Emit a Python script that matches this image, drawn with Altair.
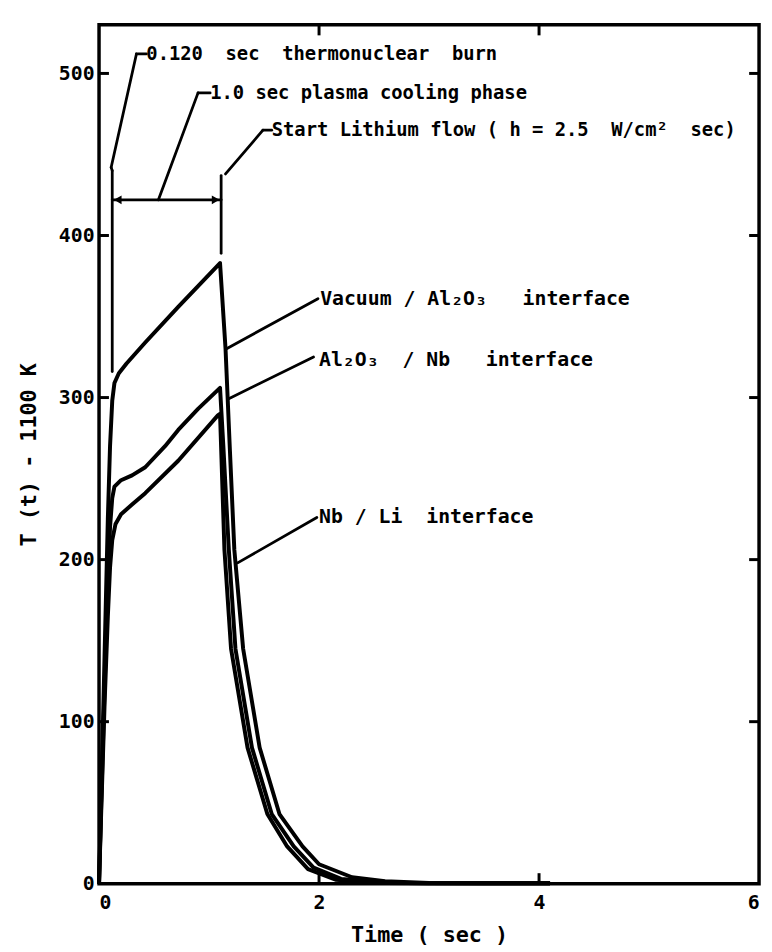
import altair as alt
import pandas as pd

# ---- curve data (time in sec, temperature rise T(t)-1100 K) ----
t_vac = [0, 0.02, 0.05, 0.08, 0.10, 0.12, 0.14, 0.18, 0.25, 0.42, 0.72, 1.10,
         1.15, 1.19, 1.23, 1.31, 1.46, 1.64, 1.85, 2.0, 2.3, 2.6, 3.0, 3.5, 4.1]
v_vac = [0, 55, 140, 225, 270, 298, 309, 315, 321, 334, 356, 383,
         330, 267, 206, 145, 84, 43, 23, 12, 4, 1.5, 0.5, 0.3, 0.3]

t_aln = [0, 0.02, 0.05, 0.08, 0.10, 0.12, 0.14, 0.20, 0.30, 0.42, 0.60, 0.72, 0.90, 1.10,
         1.13, 1.18, 1.24, 1.39, 1.57, 1.77, 1.95, 2.2, 2.6, 3.0, 3.5, 4.1]
v_aln = [0, 50, 120, 185, 220, 238, 245, 249, 252, 257, 270, 280, 293, 306,
         270, 206, 145, 84, 43, 23, 10, 3, 0.6, 0.3, 0.3, 0.3]

t_nbl = [0, 0.02, 0.05, 0.08, 0.10, 0.12, 0.15, 0.20, 0.30, 0.42, 0.72, 1.08, 1.10,
         1.14, 1.20, 1.35, 1.53, 1.71, 1.90, 2.15, 2.6, 3.0, 3.5, 4.1]
v_nbl = [0, 45, 110, 165, 195, 212, 222, 228, 234, 241, 261, 289, 290,
         206, 145, 84, 43, 23, 9, 2.5, 0.4, 0.3, 0.3, 0.3]

series_names = ["Vacuum/Al2O3", "Al2O3/Nb", "Nb/Li"]

x_ticks = [0, 2, 4, 6]
y_ticks = [0, 100, 200, 300, 400, 500]
inner_x_ticks = [2, 4]
inner_y_ticks = [100, 200, 300, 400, 500]

x_title = "Time ( sec )"
y_title = "T (t) - 1100 K"

NB = "\u00a0"  # non-collapsing space, to widen the lettering like the original

# ---- annotation texts ----
ann_text = ["0.120" + NB + " sec" + NB + " thermonuclear" + NB + " burn",
            "1.0 sec plasma cooling phase",
            "Start Lithium flow ( h = 2.5" + NB + " W/cm\u00b2" + NB + " sec)",
            "Vacuum / Al\u2082O\u2083" + NB + NB + " interface",
            "Al\u2082O\u2083" + NB + " / Nb" + NB + NB + " interface",
            "Nb / Li" + NB + " interface"]
ann_t = [0.43, 1.01, 1.57, 2.01, 2.00, 2.00]
ann_v = [512, 488, 465, 361, 323, 226]
ann_size = [19, 19, 19, 20, 20, 20]

# leader segments (t0, v0, t1, v1)
seg_t0 = [0.34, 0.34, 0.11, 0.12, 0.90, 0.90, 1.49, 1.49, 1.11, 0.12, 1.155, 1.17, 1.26]
seg_v0 = [512, 512, 442, 440, 488, 488, 465, 465, 437, 422, 330, 299, 198]
seg_t1 = [0.43, 0.11, 0.12, 0.12, 1.01, 0.54, 1.57, 1.15, 1.11, 1.11, 1.99, 1.95, 1.98]
seg_v1 = [512, 442, 440, 316, 488, 422, 465, 438, 389, 422, 361, 325, 226]

arrow_t = [0.17, 1.06]
arrow_v = [422, 422]
arrow_shape = ["triangle-left", "triangle-right"]

# ---- build tables ----
rows = []
for name, ts, vs in zip(series_names, [t_vac, t_aln, t_nbl], [v_vac, v_aln, v_nbl]):
    for i, (t, v) in enumerate(zip(ts, vs)):
        rows.append({"series": name, "i": i, "t": t, "v": v})
curves = pd.DataFrame(rows)

XMAX, YMAX = 6, 530
xs = alt.Scale(domain=[0, XMAX], nice=False, zero=False)
ys = alt.Scale(domain=[0, YMAX], nice=False, zero=False)

FONT = "DejaVu Sans Mono"

x_axis = alt.Axis(values=x_ticks, title=x_title, format="d",
                  labelPadding=9, titlePadding=12, titleFontSize=22)
y_axis = alt.Axis(values=y_ticks, title=y_title, format="d",
                  labelPadding=5, titlePadding=18, titleFontSize=22)


def X(field):
    return alt.X(field, type="quantitative", scale=xs, axis=x_axis)


def Y(field):
    return alt.Y(field, type="quantitative", scale=ys, axis=y_axis)


lines = alt.Chart(curves).mark_line(color="black", strokeWidth=4, strokeJoin="round").encode(
    x=X("t"), y=Y("v"), detail="series:N", order="i:Q",
)

# inward ticks on all four sides
tick_len_x = 0.09
tick_len_y = 6.5
tk = []
for v in inner_y_ticks:
    tk.append({"a": 0, "b": tick_len_x, "c": v, "d": v})
    tk.append({"a": XMAX - tick_len_x, "b": XMAX, "c": v, "d": v})
for t in inner_x_ticks:
    tk.append({"a": t, "b": t, "c": 0, "d": tick_len_y})
    tk.append({"a": t, "b": t, "c": YMAX - tick_len_y, "d": YMAX})
ticks = alt.Chart(pd.DataFrame(tk)).mark_rule(color="black", strokeWidth=3).encode(
    x=X("a"), x2="b:Q", y=Y("c"), y2="d:Q",
)

segs = pd.DataFrame({"a": seg_t0, "c": seg_v0, "b": seg_t1, "d": seg_v1})
leaders = alt.Chart(segs).mark_rule(color="black", strokeWidth=2.8, strokeCap="round").encode(
    x=X("a"), x2="b:Q", y=Y("c"), y2="d:Q",
)

arrows = alt.Chart(pd.DataFrame({"t": arrow_t, "v": arrow_v, "s": arrow_shape})).mark_point(
    filled=True, color="black", size=80, opacity=1).encode(
    x=X("t"), y=Y("v"), shape=alt.Shape("s:N", scale=None),
)

texts = alt.Chart(pd.DataFrame({"txt": ann_text, "t": ann_t, "v": ann_v, "fs": ann_size})).mark_text(
    align="left", baseline="middle", font=FONT, fontWeight="bold", color="black").encode(
    x=X("t"), y=Y("v"), text="txt:N", size=alt.Size("fs:Q", scale=None),
)

chart = alt.layer(lines, ticks, leaders, arrows, texts).properties(
    width=667, height=868,
    autosize=alt.AutoSizeParams(type="none"),
    padding={"left": 92, "top": 12, "right": 5, "bottom": 64},
    background="white",
).configure_view(
    stroke="black", strokeWidth=3.5,
).configure_axis(
    domain=False, ticks=False, grid=False,
    labelFont=FONT, labelFontWeight="bold", labelFontSize=20, labelColor="black",
    titleFont=FONT, titleFontWeight="bold", titleColor="black",
)

chart.save("out.html", embed_options={"renderer": "svg", "actions": False})
